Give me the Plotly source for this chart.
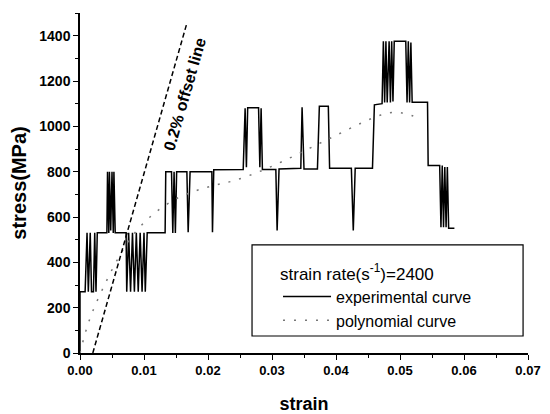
import plotly.graph_objects as go

# Experimental curve (strain, stress MPa)
exp_strain = [0, 0, 0.0008, 0.0011, 0.0013, 0.0016, 0.0018, 0.0021, 0.0023, 0.0025, 0.0027, 0.0042,
              0.0043, 0.0045, 0.0046, 0.0048, 0.0050, 0.0052, 0.0053, 0.0055, 0.0072,
              0.0073, 0.0076, 0.0079, 0.0082, 0.0085, 0.0088, 0.0091, 0.0094, 0.0097, 0.0100, 0.0102, 0.0105,
              0.0133, 0.0134, 0.0143, 0.0145, 0.0147, 0.0149, 0.0151, 0.0167, 0.0169, 0.0172,
              0.0206, 0.0207, 0.0209, 0.0255, 0.0258, 0.0260, 0.0262, 0.0279, 0.0281, 0.0283, 0.0285,
              0.0306, 0.0308, 0.0311, 0.0345, 0.0347, 0.0350, 0.0371, 0.0374, 0.0388, 0.0390,
              0.0424, 0.0427, 0.0430, 0.0457, 0.0460, 0.0472,
              0.0474, 0.0476, 0.0478, 0.0480, 0.0483, 0.0485, 0.0487, 0.0489, 0.0491,
              0.0509, 0.0511, 0.0513, 0.0515, 0.0517, 0.0519, 0.0543, 0.0544, 0.0562,
              0.0564, 0.0566, 0.0568, 0.0570, 0.0572, 0.0574, 0.0576, 0.0585]
exp_stress = [0, 270, 270, 530, 270, 530, 270, 270, 530, 270, 530, 530,
              800, 530, 800, 540, 800, 530, 800, 530, 530,
              270, 530, 270, 530, 270, 530, 270, 530, 270, 530, 270, 530,
              530, 800, 800, 530, 800, 530, 800, 800, 533, 800,
              800, 533, 808, 810, 1080, 820, 1082, 1082, 820, 1080, 810,
              810, 540, 812, 815, 1084, 812, 812, 1089, 1089, 815,
              815, 540, 815, 815, 1095, 1100,
              1375, 1105, 1375, 1105, 1375, 1105, 1375, 1110, 1375,
              1375, 1105, 1375, 1105, 1370, 1106, 1106, 827, 827,
              555, 827, 555, 820, 555, 820, 550, 550]

# Polynomial fit curve
poly_strain = [0, 0.001, 0.002, 0.004, 0.006, 0.008, 0.010, 0.012, 0.015, 0.018, 0.021, 0.024,
               0.028, 0.032, 0.036, 0.040, 0.044, 0.047, 0.049, 0.051, 0.053]
poly_stress = [0, 105, 185, 310, 420, 510, 575, 625, 680, 715, 740, 760,
               800, 850, 905, 960, 1015, 1050, 1062, 1055, 1035]

# 0.2% offset line
offset_strain = [0.002, 0.0167]
offset_stress = [0, 1455]

x_ticks = [0.00, 0.01, 0.02, 0.03, 0.04, 0.05, 0.06, 0.07]
y_ticks = [0, 200, 400, 600, 800, 1000, 1200, 1400]

FONT = "Liberation Sans, Arial, sans-serif"

fig = go.Figure()
fig.add_trace(go.Scatter(x=exp_strain, y=exp_stress, mode="lines",
                         line=dict(color="black", width=1.5),
                         name="experimental curve"))
fig.add_trace(go.Scatter(x=poly_strain, y=poly_stress, mode="lines",
                         line=dict(color="#777777", width=1.5, dash="2px,9px", shape="spline"),
                         name="polynomial curve"))
fig.add_trace(go.Scatter(x=offset_strain, y=offset_stress, mode="lines",
                         line=dict(color="black", width=1.5, dash="5px,3px"),
                         showlegend=False))

# page body has an 8px margin, so the figure is 8px smaller and margins shifted
fig.update_layout(
    width=542, height=406,
    margin=dict(l=72, r=22, t=5, b=61, autoexpand=False),
    paper_bgcolor="white", plot_bgcolor="white",
    font=dict(family=FONT, color="black"),
    legend=dict(
        x=0.442, y=0.281, xanchor="left", yanchor="top",
        bgcolor="rgba(0,0,0,0)", borderwidth=0,
        itemwidth=48,
        font=dict(size=16, family=FONT, color="black"),
        title=dict(text="strain rate(s<sup>-1</sup>)=2400", font=dict(size=17, family=FONT, color="black")),
        tracegroupgap=0,
    ),
    shapes=[dict(type="rect", xref="paper", yref="paper",
                 x0=0.384, x1=0.989, y0=0.05, y1=0.318,
                 line=dict(color="black", width=1.2), fillcolor="rgba(0,0,0,0)")],
    annotations=[dict(x=0.0164, y=1145, xref="x", yref="y",
                      text="<b>0.2% offset line</b>", showarrow=False, textangle=-74,
                      font=dict(size=16, family=FONT, color="black"))],
)

fig.update_xaxes(
    range=[0, 0.07], tickvals=x_ticks, ticktext=[f"{v:.2f}" for v in x_ticks],
    showline=True, linecolor="black", linewidth=1.5, mirror=False,
    ticks="outside", ticklen=5, tickwidth=1.2, tickcolor="black",
    minor=dict(ticks="outside", ticklen=3, tickwidth=1, tickcolor="black", dtick=0.005),
    showgrid=False, zeroline=False, automargin=False,
    tickfont=dict(size=13, family=FONT, weight="bold"),
    title=dict(text="<b>strain</b>", font=dict(size=18, family=FONT), standoff=20),
)
fig.update_yaxes(
    range=[0, 1500], tickvals=y_ticks,
    showline=True, linecolor="black", linewidth=1.5, mirror=False,
    ticks="outside", ticklen=5, tickwidth=1.2, tickcolor="black",
    minor=dict(ticks="outside", ticklen=3, tickwidth=1, tickcolor="black", dtick=100),
    showgrid=False, zeroline=False, automargin=False,
    tickfont=dict(size=14, family=FONT, weight="bold"),
    title=dict(text="<b>stress(MPa)</b>", font=dict(size=20, family=FONT), standoff=8),
)

fig.write_html("out.html")
